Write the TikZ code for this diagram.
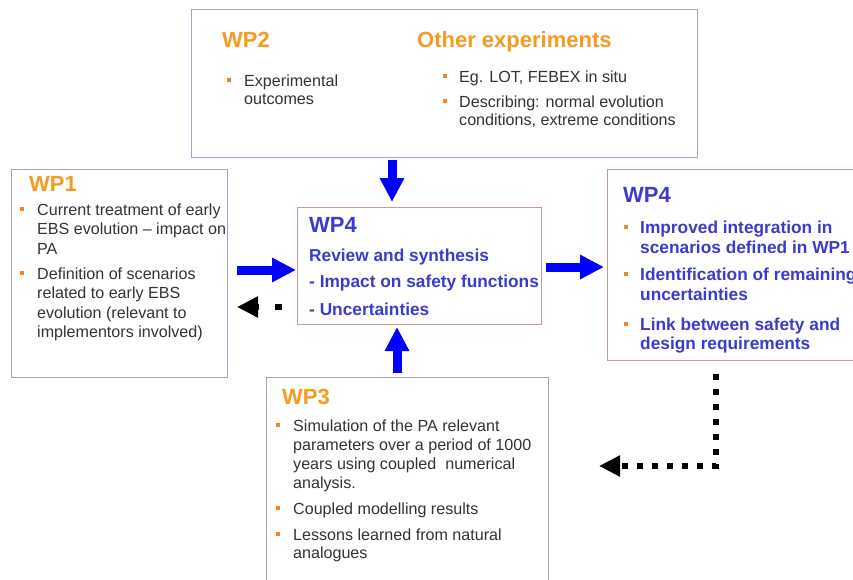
\documentclass[tikz,border=0pt]{standalone}
\usepackage{fontspec}
\setmainfont{Liberation Sans}
\usetikzlibrary{arrows.meta}
\definecolor{ttl}{HTML}{F59B1F}
\definecolor{bulc}{HTML}{F0852A}
\definecolor{txt}{HTML}{333333}
\definecolor{btxt}{HTML}{3B3BCC}
\definecolor{bordA}{HTML}{A4A4C4}
\definecolor{bordB}{HTML}{C49A9A}
\definecolor{arrb}{HTML}{0000FF}
\newcommand{\mylines}[1]{\parbox[t]{400pt}{\raggedright #1}}
\begin{document}
\begin{tikzpicture}[x=1pt,y=-1pt,
  boxA/.style={draw=bordA, line width=1.3pt, inner sep=0, anchor=north west, fill=white},
  boxB/.style={draw=bordB, line width=1.3pt, inner sep=0, anchor=north west, fill=white},
  ttlo/.style={anchor=base west, inner sep=0, text=ttl, font=\fontsize{22}{26}\selectfont\bfseries},
  ttlb/.style={anchor=base west, inner sep=0, text=btxt, font=\fontsize{22}{26}\selectfont\bfseries},
  body/.style={anchor=base west, inner sep=0, text=txt, font=\fontsize{16.1}{#1}\selectfont},
  bbody/.style={anchor=base west, inner sep=0, text=btxt, font=\fontsize{17.3}{#1}\selectfont\bfseries},
  bul/.style={fill=bulc, inner sep=0, minimum size=4.5pt},
  barrow/.style={draw=arrb, line width=9pt, -{Triangle[length=24pt,width=23pt]}, arrb},
  karrow/.style={draw=black, line width=6pt, -{Triangle[length=21pt,width=20pt]}, dash pattern=on 6pt off 9pt}
]
\clip (0,0) rectangle (853,579);
\fill[white] (0,0) rectangle (853,579);

% boxes
\node[boxA, minimum width=506pt, minimum height=148pt] (wp2) at (191,9) {};
\node[boxA, minimum width=216pt, minimum height=208pt] (wp1) at (11,169) {};
\node[boxB, minimum width=244pt, minimum height=117pt] (wp4c) at (297,207) {};
\node[boxB, minimum width=300pt, minimum height=191pt] (wp4r) at (607,169) {};
\node[boxA, minimum width=282pt, minimum height=230pt] (wp3) at (266,377) {};

% WP2 box
\node[ttlo] (t2) at (222,47) {WP2};
\node[ttlo] (t2b) at (417,47) {Other experiments};
\node[bul] (b21) at (229,80) {};
\node[body=18.5] (x21) at (244,86) {\mylines{Experimental\\outcomes}};
\node[bul] (b22) at (445,76) {};
\node[body=18.5] (x22) at (459,82) {\mylines{Eg. LOT, FEBEX in situ}};
\node[bul] (b23) at (445,101) {};
\node[body=18.5] (x23) at (459,107) {\mylines{Describing: normal evolution\\conditions, extreme conditions}};

% WP1 box
\node[ttlo] (t1) at (29,191) {WP1};
\node[bul] (b11) at (22,209) {};
\node[body=19.8] (x11) at (37,215) {\mylines{Current treatment of early\\EBS evolution -- impact on\\PA}};
\node[bul] (b12) at (22,273) {};
\node[body=19.5] (x12) at (37,279) {\mylines{Definition of scenarios\\related to early EBS\\evolution (relevant to\\implementors involved)}};

% WP4 centre
\node[ttlb] (t4c) at (309,232) {WP4};
\node[bbody=20] (x41) at (309,261) {Review and synthesis};
\node[bbody=20] (x42) at (309,287) {- Impact on safety functions};
\node[bbody=20] (x43) at (309,315) {- Uncertainties};

% WP4 right
\node[ttlb] (t4r) at (623,202) {WP4};
\node[bul] (b41) at (626,227) {};
\node[bbody=20] (x44) at (640,233) {\mylines{Improved integration in\\scenarios defined in WP1}};
\node[bul] (b42) at (626,274) {};
\node[bbody=20.5] (x45) at (640,280) {\mylines{Identification of remaining\\uncertainties}};
\node[bul] (b43) at (626,324) {};
\node[bbody=19] (x46) at (640,330) {\mylines{Link between safety and\\design requirements}};

% WP3
\node[ttlo] (t3) at (282,404) {WP3};
\node[bul] (b31) at (278,425) {};
\node[body=19] (x31) at (293,431) {\mylines{Simulation of the PA relevant\\parameters over a period of 1000\\years using coupled\ \ numerical\\analysis.}};
\node[bul] (b32) at (278,508) {};
\node[body=19] (x32) at (293,514) {\mylines{Coupled modelling results}};
\node[bul] (b33) at (278,534) {};
\node[body=18.5] (x33) at (293,540) {\mylines{Lessons learned from natural\\analogues}};

% arrow end points
\coordinate (a1s) at (392,160);
\coordinate (a1e) at (392,202);
\coordinate (a2s) at (237,270);
\coordinate (a2e) at (296,270);
\coordinate (a3s) at (282,307);
\coordinate (a3e) at (237,307);
\coordinate (a4s) at (546,267);
\coordinate (a4e) at (604,267);
\coordinate (a5s) at (397,373);
\coordinate (a5e) at (397,327);
\coordinate (a6s) at (716,374);
\coordinate (a6c) at (716,466);
\coordinate (a6e) at (599,466);

\draw[barrow] (a1s) -- (a1e);
\draw[barrow] (a2s) -- (a2e);
\draw[karrow, dash pattern=on 7pt off 16pt] (a3s) -- (a3e);
\draw[barrow] (a4s) -- (a4e);
\draw[barrow] (a5s) -- (a5e);
\draw[karrow] (a6s) -- (a6c) -- (a6e);
\end{tikzpicture}
\end{document}
